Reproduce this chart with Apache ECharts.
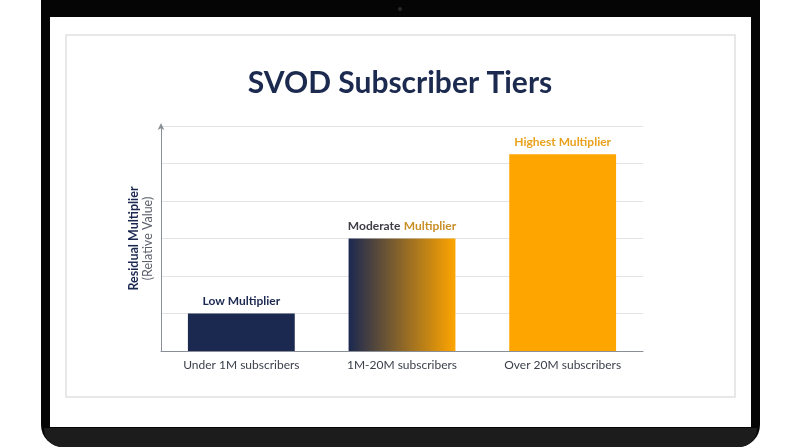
<!DOCTYPE html>
<html>
<head>
<meta charset="utf-8">
<script src="https://cdn.jsdelivr.net/npm/echarts@6/dist/echarts.min.js"></script>
<style>
html,body{margin:0;padding:0;background:#ffffff;}
#chart{width:800px;height:447px;}
</style>
</head>
<body>
<div id="chart"></div>
<script>
var title = 'SVOD Subscriber Tiers';
var categories = ['Under 1M subscribers', '1M-20M subscribers', 'Over 20M subscribers'];
var values = [1, 3, 5.25];
var barLabels = ['Low Multiplier', 'Moderate Multiplier', 'Highest Multiplier'];
var yTicks = [0, 1, 2, 3, 4, 5, 6];
var yAxisTitle = 'Residual Multiplier';
var yAxisSubtitle = '(Relative Value)';

var NAVY = '#1b2850';
var ORANGE = '#fea500';
var FONT = 'Lato, "Noto Sans", sans-serif';

var chart = echarts.init(document.getElementById('chart'), null, {renderer: 'canvas'});

var barStyles = [
  {color: NAVY},
  {color: new echarts.graphic.LinearGradient(0, 0, 1, 0, [
    {offset: 0, color: NAVY}, {offset: 1, color: ORANGE}
  ])},
  {color: ORANGE}
];
var labelFormats = [
  '{n|' + barLabels[0] + '}',
  '{g|' + barLabels[1].split(' ')[0] + '} {o2|' + barLabels[1].split(' ')[1] + '}',
  '{o|' + barLabels[2] + '}'
];
var labelRich = {
  n: {color: NAVY, fontWeight: 'bold', fontSize: 12, fontFamily: FONT},
  g: {color: '#3f3e47', fontWeight: 'bold', fontSize: 12, fontFamily: FONT},
  o2: {color: '#c98f28', fontWeight: 'bold', fontSize: 12, fontFamily: FONT},
  o: {color: '#e9a21c', fontWeight: 'bold', fontSize: 12, fontFamily: FONT}
};

var data = values.map(function (v, i) {
  return {
    value: v,
    itemStyle: barStyles[i],
    label: {formatter: labelFormats[i]}
  };
});

var option = {
  backgroundColor: '#ffffff',
  animation: false,
  graphic: [
    {type: 'rect', z: -10, shape: {x: 41, y: -20, width: 719, height: 467, r: 22}, style: {fill: '#050505'}},
    {type: 'rect', z: -9, shape: {x: 44, y: 428, width: 713, height: 19, r: [0, 0, 18, 18]}, style: {fill: '#1c1c1c'}},
    {type: 'circle', z: -8, shape: {cx: 400, cy: 9, r: 2}, style: {fill: '#2a2a2a'}},
    {type: 'rect', z: -8, shape: {x: 50, y: 17, width: 701, height: 410}, style: {fill: '#ffffff'}},
    {type: 'rect', z: -7, shape: {x: 66, y: 35, width: 669, height: 362}, style: {fill: '#ffffff', stroke: '#e1e1e1', lineWidth: 1.5}},
    {type: 'text', z: 10, left: 'center', top: 68, style: {text: title, fill: '#1b2a4e', font: 'bold 30px ' + FONT}}
  ],
  grid: {left: 161, right: 157, top: 126, bottom: 96, containLabel: false},
  xAxis: {
    type: 'category',
    data: categories,
    axisLine: {show: true, lineStyle: {color: '#8a8e96', width: 1}},
    axisTick: {show: false},
    axisLabel: {color: '#3a3f4a', fontSize: 12, fontFamily: FONT, margin: 8, interval: 0},
    splitLine: {show: false}
  },
  yAxis: {
    type: 'value',
    min: yTicks[0],
    max: yTicks[yTicks.length - 1],
    interval: 1,
    axisLine: {show: true, symbol: ['none', 'arrow'], symbolSize: [5, 7], symbolOffset: [0, 3], lineStyle: {color: '#8a8e96', width: 1}},
    axisTick: {show: false},
    axisLabel: {show: false},
    splitLine: {show: true, lineStyle: {color: '#e4e4e4', width: 1}},
    name: '{a|' + yAxisTitle + '}\n{b|' + yAxisSubtitle + '}',
    nameLocation: 'middle',
    nameRotate: 90,
    nameGap: 6,
    nameTextStyle: {
      rich: {
        a: {color: NAVY, fontWeight: 'bold', fontSize: 12.5, fontFamily: FONT, lineHeight: 14},
        b: {color: '#5a5f6a', fontSize: 12.5, fontFamily: FONT, lineHeight: 14}
      }
    }
  },
  series: [{
    type: 'bar',
    data: data,
    barWidth: '66.5%',
    label: {show: true, position: 'top', distance: 6, rich: labelRich}
  }]
};
chart.setOption(option);
</script>
</body>
</html>
